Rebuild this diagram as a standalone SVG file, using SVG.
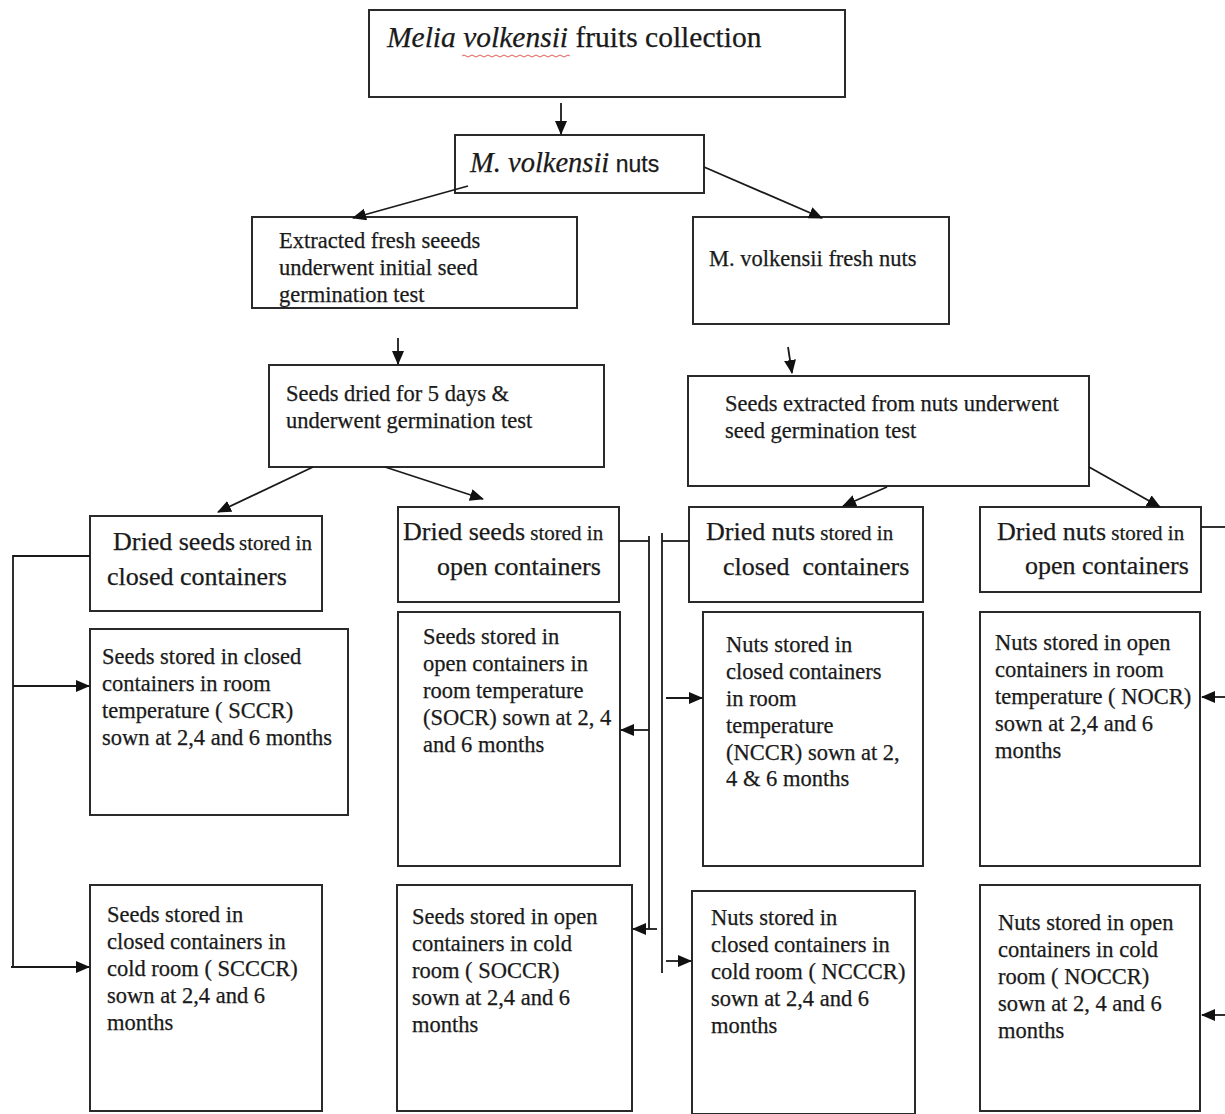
<svg xmlns="http://www.w3.org/2000/svg" width="1225" height="1114" viewBox="0 0 1225 1114">
<defs>
<marker id="ah" markerUnits="userSpaceOnUse" markerWidth="14" markerHeight="12" refX="13" refY="6" orient="auto">
<path d="M0,0 L14,6 L0,12 Z" fill="#111"/>
</marker>
<style>
.box{fill:#fff;stroke:#2a2a2a;stroke-width:2}
.t{font-family:"Liberation Serif","Times New Roman",serif;font-size:22.5px;fill:#1a1a1a;stroke:#1a1a1a;stroke-width:0.25}
.big{font-size:26px}
.sm{font-size:21px}
.it{font-style:italic}
.sans{font-family:"Liberation Sans",Arial,sans-serif}
.c{fill:none;stroke:#1a1a1a;stroke-width:1.8}
.a{fill:none;stroke:#1a1a1a;stroke-width:1.8;marker-end:url(#ah)}
</style>
</defs>
<rect width="1225" height="1114" fill="#fff"/>
<g id="n1">
<rect class="box" x="369" y="10" width="476" height="87"/>
<text class="t" x="387" y="47" style="font-size:29.5px"><tspan class="it">Melia volkensii</tspan> fruits collection</text>
<path d="M462,56 q2,-2 4,0 t4,0 t4,0 t4,0 t4,0 t4,0 t4,0 t4,0 t4,0 t4,0 t4,0 t4,0 t4,0 t4,0 t4,0 t4,0 t4,0 t4,0 t4,0 t4,0 t4,0 t4,0 t4,0 t4,0 t4,0 t4,0 t4,0" fill="none" stroke="#e05a5a" stroke-width="1"/>
</g>
<g id="n2">
<rect class="box" x="455" y="135" width="249" height="58"/>
<text class="t" x="470" y="172"><tspan class="it" style="font-size:28.5px">M. volkensii</tspan><tspan class="sans" style="font-size:23px"> nuts</tspan></text>
</g>
<g id="n3">
<rect class="box" x="252" y="217" width="325" height="91"/>
<text class="t" x="279" y="248">Extracted fresh seeeds</text>
<text class="t" x="279" y="275">underwent initial seed</text>
<text class="t" x="279" y="302">germination test</text>
</g>
<g id="n4">
<rect class="box" x="693" y="217" width="256" height="107"/>
<text class="t" x="709" y="266">M. volkensii fresh nuts</text>
</g>
<g id="n5">
<rect class="box" x="269" y="365" width="335" height="102"/>
<text class="t" x="286" y="401">Seeds dried for 5 days &amp;</text>
<text class="t" x="286" y="428">underwent germination test</text>
</g>
<g id="n6">
<rect class="box" x="688" y="376" width="401" height="110"/>
<text class="t" x="725" y="411">Seeds extracted from nuts underwent</text>
<text class="t" x="725" y="438">seed germination test</text>
</g>
<g id="n7">
<rect class="box" x="90" y="516" width="232" height="95"/>
<text class="t" x="113" y="550"><tspan class="big">Dried seeds</tspan><tspan class="sm" dx="4">stored in</tspan></text>
<text class="t big" x="107" y="585">closed containers</text>
</g>
<g id="n8">
<rect class="box" x="398" y="507" width="221" height="95"/>
<text class="t" x="403" y="540"><tspan class="big">Dried seeds</tspan><tspan class="sm"> stored in</tspan></text>
<text class="t big" x="437" y="575">open containers</text>
</g>
<g id="n9">
<rect class="box" x="689" y="507" width="234" height="95"/>
<text class="t" x="706" y="540"><tspan class="big">Dried nuts</tspan><tspan class="sm"> stored in</tspan></text>
<text class="t big" x="723" y="575" xml:space="preserve">closed  containers</text>
</g>
<g id="n10">
<rect class="box" x="980" y="507" width="221" height="85"/>
<text class="t" x="997" y="540"><tspan class="big">Dried nuts</tspan><tspan class="sm"> stored in</tspan></text>
<text class="t big" x="1025" y="574">open containers</text>
</g>
<g id="n11">
<rect class="box" x="90" y="629" width="258" height="186"/>
<text class="t" x="102" y="664">Seeds stored in closed</text>
<text class="t" x="102" y="691">containers in room</text>
<text class="t" x="102" y="718">temperature ( SCCR)</text>
<text class="t" x="102" y="745">sown at 2,4 and 6 months</text>
</g>
<g id="n12">
<rect class="box" x="398" y="612" width="222" height="254"/>
<text class="t" x="423" y="644">Seeds stored in</text>
<text class="t" x="423" y="671">open containers in</text>
<text class="t" x="423" y="698">room temperature</text>
<text class="t" x="423" y="725">(SOCR) sown at 2, 4</text>
<text class="t" x="423" y="752">and 6 months</text>
</g>
<g id="n13">
<rect class="box" x="703" y="612" width="220" height="254"/>
<text class="t" x="726" y="652">Nuts stored in</text>
<text class="t" x="726" y="679">closed containers</text>
<text class="t" x="726" y="706">in room</text>
<text class="t" x="726" y="733">temperature</text>
<text class="t" x="726" y="760">(NCCR) sown at 2,</text>
<text class="t" x="726" y="786">4 &amp; 6 months</text>
</g>
<g id="n14">
<rect class="box" x="980" y="612" width="220" height="254"/>
<text class="t" x="995" y="650">Nuts stored in open</text>
<text class="t" x="995" y="677">containers in room</text>
<text class="t" x="995" y="704">temperature ( NOCR)</text>
<text class="t" x="995" y="731">sown at 2,4 and 6</text>
<text class="t" x="995" y="758">months</text>
</g>
<g id="n15">
<rect class="box" x="90" y="885" width="232" height="226"/>
<text class="t" x="107" y="922">Seeds stored in</text>
<text class="t" x="107" y="949">closed containers in</text>
<text class="t" x="107" y="976">cold room ( SCCCR)</text>
<text class="t" x="107" y="1003">sown at 2,4 and 6</text>
<text class="t" x="107" y="1030">months</text>
</g>
<g id="n16">
<rect class="box" x="397" y="885" width="235" height="226"/>
<text class="t" x="412" y="924">Seeds stored in open</text>
<text class="t" x="412" y="951">containers in cold</text>
<text class="t" x="412" y="978">room ( SOCCR)</text>
<text class="t" x="412" y="1005">sown at 2,4 and 6</text>
<text class="t" x="412" y="1032">months</text>
</g>
<g id="n17">
<rect class="box" x="692" y="891" width="223" height="223"/>
<text class="t" x="711" y="925">Nuts stored in</text>
<text class="t" x="711" y="952">closed containers in</text>
<text class="t" x="711" y="979">cold room ( NCCCR)</text>
<text class="t" x="711" y="1006">sown at 2,4 and 6</text>
<text class="t" x="711" y="1033">months</text>
</g>
<g id="n18">
<rect class="box" x="980" y="885" width="220" height="226"/>
<text class="t" x="998" y="930">Nuts stored in open</text>
<text class="t" x="998" y="957">containers in cold</text>
<text class="t" x="998" y="984">room ( NOCCR)</text>
<text class="t" x="998" y="1011">sown at 2, 4 and 6</text>
<text class="t" x="998" y="1038">months</text>
</g>
<g id="connectors">
<path class="a" d="M561,103 V134"/>
<path class="a" d="M468,186 L353,218"/>
<path class="a" d="M704,167 L822,218"/>
<path class="a" d="M398,338 V364"/>
<path class="a" d="M788,347 L792,373"/>
<path class="a" d="M313,467 L218,512"/>
<path class="a" d="M385,467 L483,499"/>
<path class="a" d="M887,487 L843,506"/>
<path class="a" d="M1089,467 L1160,507"/>
<path class="c" d="M90,556 H13 V968"/>
<path class="a" d="M13,686 H89"/>
<path class="a" d="M11,967 H89"/>
<path class="c" d="M619,541 H649"/>
<path class="c" d="M649,536 V929"/>
<path class="a" d="M649,730 H621"/>
<path class="a" d="M657,929 H633"/>
<path class="c" d="M689,541 H662"/>
<path class="c" d="M662,533 V973"/>
<path class="a" d="M666,698 H702"/>
<path class="a" d="M666,961 H691"/>
<path class="c" d="M1201,527 H1225"/>
<path class="a" d="M1225,697 H1202"/>
<path class="a" d="M1225,1015 H1202"/>
</g>
</svg>
